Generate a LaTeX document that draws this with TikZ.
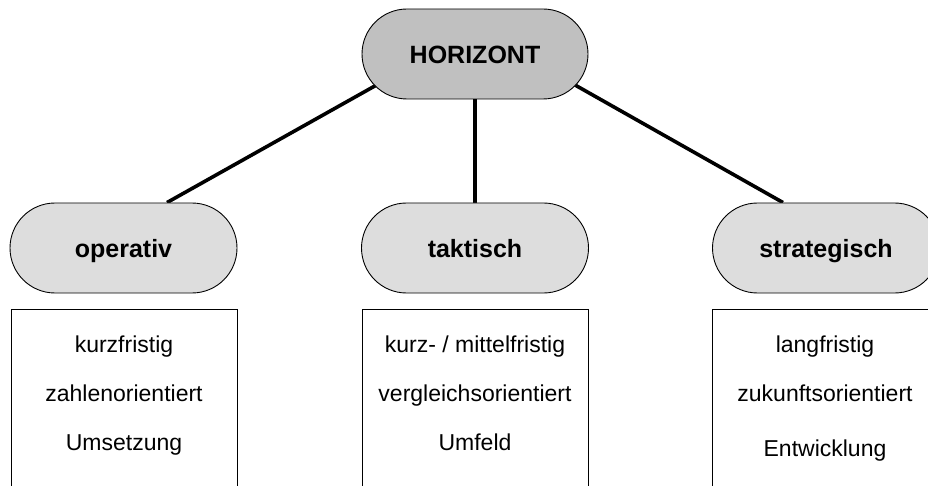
\documentclass[tikz,border=0pt]{standalone}
\usepackage{fontspec}
\setmainfont{Liberation Sans}
\usetikzlibrary{backgrounds,calc}
\definecolor{rootfill}{HTML}{C0C0C0}
\definecolor{levelfill}{HTML}{DDDDDD}
\begin{document}
\begin{tikzpicture}[x=1pt,y=-1pt,
  capsule/.style={draw=black, line width=0.9pt, rounded corners=45pt,
    minimum width=227pt, minimum height=90pt, inner sep=0pt,
    text height=20pt, text depth=0pt,
    font=\bfseries\fontsize{25}{30}\selectfont},
  rootcap/.style={capsule, fill=rootfill, minimum width=226pt},
  levelcap/.style={capsule, fill=levelfill},
  listbox/.style={draw=black, line width=0.9pt, minimum width=226pt,
    minimum height=240pt, inner sep=0pt, anchor=north},
  listtext/.style={align=center, inner sep=0pt, anchor=north,
    font=\fontsize{23}{49}\selectfont},
  link/.style={line width=3.6pt}]
  \useasboundingbox (0,0) rectangle (928,486);
  \clip (0,0) rectangle (928,486);

  % capsules
  \node[rootcap]  (H)  at (475,54)    {HORIZONT};
  \node[levelcap] (op) at (123.5,248) {operativ};
  \node[levelcap] (tk) at (475,248)   {taktisch};
  \node[levelcap] (st) at (826,248)   {strategisch};

  % open boxes below each level
  \node[listbox] (ob) at (124,309) {};
  \node[listbox] (tb) at (475,309) {};
  \node[listbox] (sb) at (825,309) {};

  \node[listtext] (ot) at (124,336) {kurzfristig\\zahlenorientiert\\Umsetzung};
  \node[listtext] (tt) at (475,336) {kurz- / mittelfristig\\vergleichsorientiert\\Umfeld};
  \node[listtext] (stt) at (825,336) {langfristig\\zukunftsorientiert\\[6pt]Entwicklung};

  % connector end points
  \coordinate (o1) at ($(op.north)+(43.5,0)$);
  \coordinate (s1) at ($(st.north)+(-43,0)$);
  \coordinate (h1) at ($(H.center)+(-102,33)$);
  \coordinate (h3) at ($(H.center)+(100,31)$);

  \begin{pgfonlayer}{background}
    \draw[link] (o1) -- ($(o1)!1.12!(h1)$);
    \draw[link] (H.center) -- (tk.north);
    \draw[link] (s1) -- ($(s1)!1.12!(h3)$);
  \end{pgfonlayer}
\end{tikzpicture}
\end{document}
